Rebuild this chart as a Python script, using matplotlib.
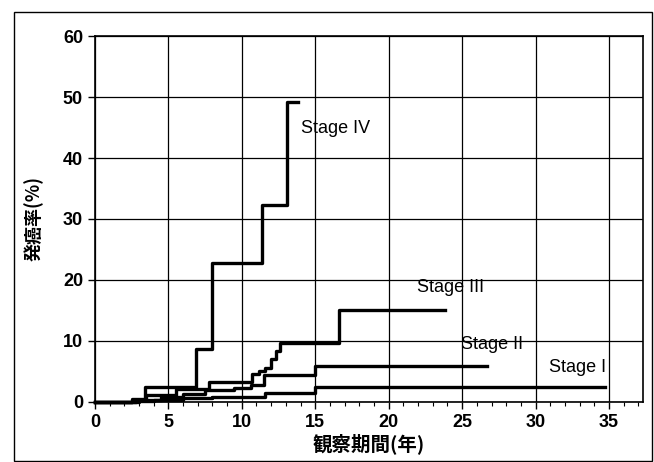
import numpy as np
import matplotlib
matplotlib.use('Agg')
import matplotlib.pyplot as plt
from matplotlib.patches import Rectangle
from matplotlib.ticker import MultipleLocator

plt.rcParams['font.family'] = ['Liberation Sans', 'DejaVu Sans']

# 累積発癌率 (ステップ関数: 時点, 値, 観察終了)
stage1_t = [0, 2.5, 4.0, 6.0, 8.0, 11.6, 15.0]
stage1_y = [0, 0.2, 0.4, 0.6, 0.8, 1.5, 2.4]
stage1_end = 34.7

stage2_t = [0, 3.0, 4.5, 6.0, 7.5, 9.5, 10.6, 11.5, 15.0]
stage2_y = [0, 0.3, 0.8, 1.3, 1.9, 2.3, 2.8, 4.4, 5.9]
stage2_end = 26.7

stage3_t = [0, 2.8, 3.5, 5.5, 7.8, 10.7, 11.2, 11.6, 12.0, 12.3, 12.6, 16.6]
stage3_y = [0, 0.4, 1.2, 2.1, 3.3, 4.6, 5.0, 5.5, 7.0, 8.3, 9.7, 15.1]
stage3_end = 23.8

stage4_t = [0, 2.5, 3.4, 6.9, 8.0, 11.4, 13.1]
stage4_y = [0, 0.5, 2.4, 8.7, 22.8, 32.3, 49.2]
stage4_end = 13.8

labels = ['Stage I', 'Stage II', 'Stage III', 'Stage IV']
label_pos = [(30.9, 5.7), (24.9, 9.5), (21.9, 18.7), (14.0, 44.9)]

fig = plt.figure(figsize=(6.54, 4.62), dpi=100)
ax = fig.add_axes([0.145, 0.130, 0.838, 0.792])

series = [
    (stage1_t, stage1_y, stage1_end),
    (stage2_t, stage2_y, stage2_end),
    (stage3_t, stage3_y, stage3_end),
    (stage4_t, stage4_y, stage4_end),
]
for t, y, end in series:
    ax.step(list(t) + [end], list(y) + [y[-1]], where='post',
            color='black', lw=2.4, zorder=3, clip_on=False)

for name, (x, y) in zip(labels, label_pos):
    ax.text(x, y, name, fontsize=13, va='center', ha='left', zorder=4)

ax.set_xlim(0, 37.3)
ax.set_ylim(0, 60)
ax.xaxis.set_major_locator(MultipleLocator(5))
ax.xaxis.set_minor_locator(MultipleLocator(1))
ax.yaxis.set_major_locator(MultipleLocator(10))
ax.grid(True, which='major', color='black', lw=0.9)
ax.tick_params(axis='both', which='major', direction='out', length=5,
               width=1, labelsize=13, colors='black')
ax.tick_params(axis='x', which='minor', direction='out', length=3, width=0.8)
for lbl in ax.get_xticklabels() + ax.get_yticklabels():
    lbl.set_fontweight('bold')
for sp in ax.spines.values():
    sp.set_linewidth(1.2)
    sp.set_color('black')

ax.set_xlabel('観察期間(年)', fontsize=14, fontweight='bold',
              family=['Noto Sans CJK JP', 'DejaVu Sans'], labelpad=2)
ax.set_ylabel('発癌率(%)', fontsize=13, fontweight='bold',
              family=['Noto Sans CJK JP', 'DejaVu Sans'], labelpad=14)

# 外枠
fig.patches.append(Rectangle((0.021, 0.003), 0.976, 0.971,
                             transform=fig.transFigure, fill=False,
                             edgecolor='black', lw=1.0))

fig.savefig('out.png', dpi=100)
